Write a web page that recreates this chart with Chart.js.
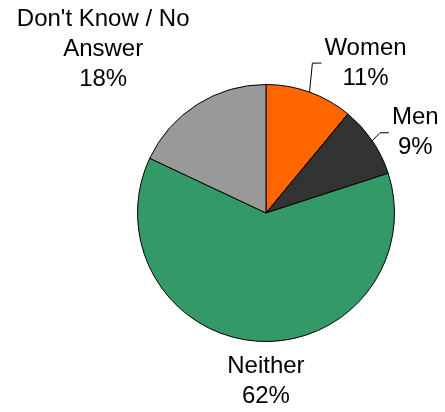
<!DOCTYPE html>
<html>
<head>
<meta charset="utf-8">
<script src="https://cdn.jsdelivr.net/npm/chart.js@4.4.1/dist/chart.umd.min.js"></script>
<style>
  html, body { margin: 0; padding: 0; background: #fff; }
  #wrap { width: 445px; height: 412px; }
</style>
</head>
<body>
<div id="wrap"><canvas id="grafikPie"></canvas></div>
<script>
// Data
const labels = ['Women', 'Men', 'Neither', "Don't Know / No Answer"];
const labelLines = [['Women', '11%'], ['Men', '9%'], ['Neither', '62%'], ["Don't Know / No", 'Answer', '18%']];
const dataPersen = [11, 9, 62, 18];
const warna = ['#FF6600', '#333333', '#339966', '#999999'];

// Label placement relative to the slice's outer edge midpoint
const labelOffset = [
    { dx: 56, dy: -29, leader: true },
    { dx: 43, dy: -8, leader: true },
    { dx: 8, dy: 40, leader: false },
    { dx: -94, dy: -55, leader: false }
];

const labelPlugin = {
    id: 'labelPlugin',
    afterDraw(chart) {
        const ctx = chart.ctx;
        const meta = chart.getDatasetMeta(0);
        ctx.save();
        ctx.font = '24px "Liberation Sans", Arial, sans-serif';
        ctx.fillStyle = '#000';
        ctx.strokeStyle = '#000';
        ctx.lineWidth = 1;
        ctx.textAlign = 'center';
        ctx.textBaseline = 'middle';
        const lineH = 30;
        meta.data.forEach(function(arc, i) {
            const mid = (arc.startAngle + arc.endAngle) / 2;
            const ex = arc.x + Math.cos(mid) * arc.outerRadius;
            const ey = arc.y + Math.sin(mid) * arc.outerRadius;
            const off = labelOffset[i];
            const cx = ex + off.dx;
            const cy = ey + off.dy;
            const lines = labelLines[i];
            if (off.leader) {
                const textW = Math.max.apply(null, lines.map(function(t) { return ctx.measureText(t).width; }));
                const endX = cx - textW / 2 - 3;
                const elbowX = endX - 9;
                ctx.beginPath();
                ctx.moveTo(ex, ey);
                ctx.lineTo(elbowX, cy);
                ctx.lineTo(endX, cy);
                ctx.stroke();
            }
            const top = cy - (lines.length - 1) * lineH / 2;
            lines.forEach(function(t, j) {
                ctx.fillText(t, cx, top + j * lineH);
            });
        });
        ctx.restore();
    }
};

let chartPie = new Chart(document.getElementById('grafikPie').getContext('2d'), {
    type: 'pie',
    data: {
        labels: labels,
        datasets: [{
            data: dataPersen,
            backgroundColor: warna,
            borderColor: '#000000',
            borderWidth: 1
        }]
    },
    options: {
        responsive: true,
        maintainAspectRatio: false,
        animation: false,
        layout: {
            padding: { left: 137, right: 50, top: 84, bottom: 70 }
        },
        plugins: {
            legend: { display: false },
            tooltip: { enabled: false }
        }
    },
    plugins: [labelPlugin]
});
</script>
</body>
</html>
